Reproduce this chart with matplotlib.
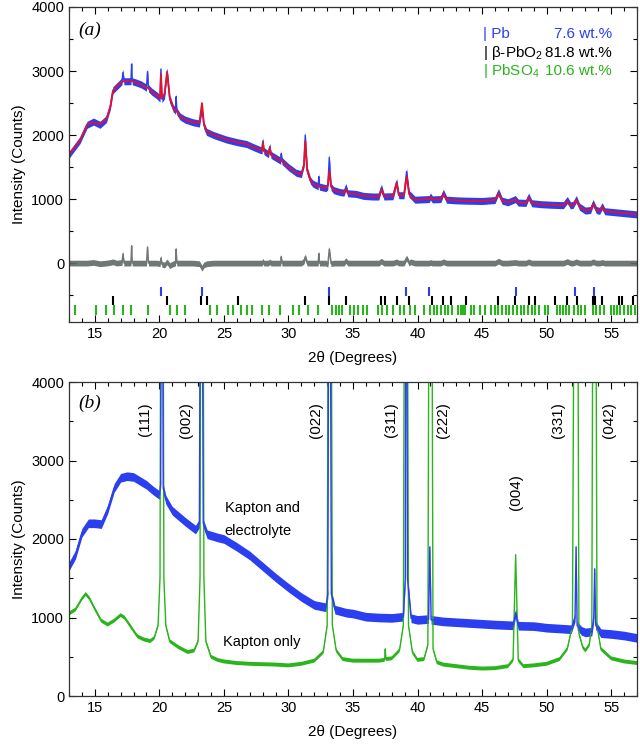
import numpy as np
import matplotlib
matplotlib.use("Agg")
import matplotlib.pyplot as plt
from matplotlib.ticker import MultipleLocator

plt.rcParams['font.family'] = ['Liberation Sans', 'DejaVu Sans']
plt.rcParams['mathtext.fontset'] = 'custom'
plt.rcParams['mathtext.rm'] = 'Liberation Sans'

##### colours ########
BLUE = "#2b3ff0"
RED = "#e8102a"
GREY = "#6f7876"
GREEN = "#2bb51c"

##### panel (a): Rietveld fit ########
theta_a = [13.00, 13.40, 13.85, 14.40, 14.90, 15.40, 15.90, 16.20, 16.40, 16.70,
           17.10, 17.18, 17.26, 17.70, 17.80, 17.85, 17.90, 18.20, 18.60, 19.00,
           19.08, 19.16, 19.40, 19.80, 20.05, 20.12, 20.20, 20.40, 20.60, 20.80,
           21.07, 21.25, 21.30, 21.35, 21.60, 22.00, 22.60, 23.10, 23.30, 23.45,
           23.65, 24.20, 25.20, 26.00, 26.75, 27.30, 27.78, 27.95, 28.02, 28.10,
           28.45, 28.55, 28.65, 29.30, 29.40, 29.44, 29.50, 30.00, 30.60, 31.00,
           31.20, 31.30, 31.45, 31.70, 31.90, 32.30, 32.35, 32.40, 32.90, 33.05,
           33.16, 33.30, 33.50, 33.97, 34.30, 34.45, 34.60, 35.25, 35.80, 36.50,
           37.00, 37.20, 37.40, 38.10, 38.38, 38.55, 38.95, 39.15, 39.35, 39.46,
           39.80, 40.90, 41.00, 41.15, 41.80, 42.00, 42.25, 43.00, 43.80, 45.00,
           46.00, 46.27, 46.55, 47.00, 47.58, 47.80, 48.40, 48.60, 48.85, 49.55,
           50.50, 51.30, 51.60, 51.85, 52.05, 52.30, 52.55, 53.00, 53.40, 53.60,
           53.85, 54.10, 54.30, 54.50, 55.00, 56.00, 57.00]
obs_a = [1690, 1800, 1920, 2160, 2210, 2160, 2250, 2450, 2700, 2760,
         2840, 2980, 2840, 2840, 2845, 3110, 2840, 2820, 2790, 2740,
         2990, 2730, 2680, 2620, 2570, 3030, 2560, 2620, 3000, 2560,
         2420, 2380, 2600, 2370, 2290, 2240, 2200, 2180, 2420, 2150,
         2050, 2000, 1930, 1890, 1860, 1810, 1770, 1760, 1910, 1750,
         1700, 1820, 1690, 1610, 1600, 1710, 1595, 1500, 1410, 1390,
         1550, 2000, 1450, 1290, 1240, 1200, 1350, 1195, 1170, 1200,
         1650, 1190, 1140, 1110, 1100, 1190, 1090, 1080, 1050, 1040,
         1040, 1180, 1040, 1045, 1270, 1060, 1060, 1430, 1080, 1060,
         990, 1000, 1040, 995, 1000, 1100, 990, 980, 975, 970,
         985, 1110, 975, 950, 1000, 945, 940, 1040, 935, 920,
         910, 905, 985, 900, 910, 1000, 880, 820, 830, 940,
         830, 815, 890, 810, 800, 780, 760]
calc_a = [1690, 1800, 1920, 2160, 2200, 2170, 2250, 2440, 2680, 2760,
          2830, 2835, 2840, 2840, 2840, 2840, 2840, 2820, 2790, 2740,
          2740, 2730, 2680, 2620, 2580, 2950, 2580, 2650, 2980, 2600,
          2430, 2380, 2380, 2370, 2290, 2240, 2200, 2190, 2500, 2180,
          2060, 2000, 1930, 1890, 1860, 1810, 1770, 1760, 1880, 1750,
          1700, 1800, 1690, 1610, 1600, 1610, 1595, 1500, 1410, 1390,
          1520, 1900, 1450, 1290, 1240, 1200, 1200, 1195, 1170, 1220,
          1430, 1200, 1140, 1110, 1100, 1150, 1090, 1080, 1050, 1040,
          1040, 1150, 1040, 1045, 1250, 1060, 1060, 1350, 1080, 1040,
          990, 1000, 1030, 995, 1000, 1080, 990, 980, 975, 970,
          985, 1080, 975, 950, 990, 945, 940, 1020, 935, 920,
          910, 905, 960, 900, 910, 980, 880, 820, 830, 920,
          830, 815, 880, 810, 800, 780, 760]

# reflection positions (2theta)
pb_refl = [20.1, 23.28, 33.16, 39.1, 40.9, 47.6, 52.2, 53.65]
pbo2_refl = [16.37, 20.61, 23.19, 23.71, 26.06, 31.3, 33.14, 34.45, 37.18, 37.46,
             38.38, 39.33, 41.1, 41.96, 42.62, 43.74, 46.2, 47.55, 48.6, 49.12,
             50.65, 51.6, 52.37, 53.56, 53.77, 54.28, 55.63, 55.86, 56.71]
pbso4_refl = [13.45, 15.08, 15.83, 16.52, 17.17, 17.80, 19.09, 20.81, 21.39, 21.96,
              23.91, 24.48, 25.28, 25.71, 26.34, 26.77, 27.20, 27.92, 28.49, 29.35,
              30.36, 30.79, 31.50, 32.28, 33.36, 33.65, 33.94, 34.14, 34.80, 35.08,
              35.37, 35.80, 36.09, 36.95, 37.23, 37.61, 38.09, 38.66, 38.95, 39.38,
              39.81, 40.53, 40.96, 41.24, 41.53, 41.82, 42.10, 42.39, 42.68, 43.11,
              43.39, 43.54, 43.68, 44.11, 44.40, 44.83, 45.26, 45.68, 45.97, 46.26,
              46.54, 46.83, 47.12, 47.40, 47.69, 47.98, 48.26, 48.55, 48.84, 49.12,
              49.41, 49.84, 50.13, 50.84, 51.04, 51.27, 51.50, 51.70, 52.13, 52.42,
              52.70, 52.99, 53.56, 53.85, 54.14, 54.42, 55.00, 55.23, 55.43, 55.71,
              56.00, 56.29, 56.57, 56.86]

phases = ["Pb", r"β-PbO$_2$", r"PbSO$_4$"]
wt_pct = ["7.6 wt.%", "81.8 wt.%", "10.6 wt.%"]

##### panel (b): Kapton with / without electrolyte ########
theta_ke = [13.0, 13.5, 14.0, 14.5, 15.0, 15.5, 16.0, 16.5, 17.0, 17.5,
            18.0, 18.5, 19.0, 19.5, 20.0, 20.1, 20.2, 20.3, 20.5, 21.0,
            22.0, 22.8, 23.1, 23.25, 23.4, 23.7, 24.5, 25.0, 26.0, 27.0,
            28.0, 29.0, 30.0, 31.0, 32.0, 32.9, 33.05, 33.18, 33.32, 33.6,
            34.5, 35.0, 36.0, 37.0, 38.0, 38.9, 39.05, 39.12, 39.22, 39.5,
            40.0, 40.85, 40.95, 41.05, 42.0, 43.0, 44.0, 45.0, 46.0, 47.4,
            47.6, 47.8, 49.0, 50.0, 51.0, 51.9, 52.2, 52.28, 52.36, 52.7,
            53.0, 53.5, 53.65, 53.72, 53.8, 54.2, 55.0, 56.0, 57.0]
kapton_elec = [1650, 1800, 2080, 2200, 2200, 2190, 2380, 2650, 2780, 2800,
               2790, 2740, 2690, 2620, 2560, 2700, 9000, 2650, 2500, 2360,
               2220, 2120, 2200, 9000, 2200, 2060, 2020, 2000, 1900, 1790,
               1650, 1510, 1380, 1260, 1160, 1130, 1300, 9000, 1300, 1100,
               1060, 1050, 1010, 1000, 995, 1010, 1500, 9000, 1500, 990,
               970, 980, 1900, 970, 950, 940, 930, 920, 910, 900,
               1060, 895, 890, 870, 860, 850, 1000, 1900, 900, 830,
               810, 820, 1000, 1620, 900, 800, 790, 770, 740]

theta_k = [13.0, 13.5, 14.0, 14.3, 14.6, 15.0, 15.5, 16.0, 16.5, 17.0,
           17.3, 17.8, 18.3, 18.8, 19.3, 19.6, 19.9, 20.05, 20.2, 20.35,
           20.5, 20.8, 21.5, 22.2, 22.7, 23.0, 23.15, 23.3, 23.45, 23.6,
           24.0, 24.5, 25.0, 26.0, 27.0, 28.0, 29.0, 30.0, 31.0, 32.0,
           32.7, 33.0, 33.2, 33.4, 33.7, 34.2, 35.0, 36.0, 37.0, 37.45,
           37.5, 37.55, 38.0, 38.6, 38.9, 39.1, 39.3, 39.6, 40.0, 40.5,
           40.8, 41.0, 41.2, 41.5, 42.0, 43.0, 44.0, 45.0, 46.0, 47.0,
           47.4, 47.6, 47.8, 48.2, 49.0, 50.0, 51.0, 51.6, 52.0, 52.3,
           52.5, 52.8, 53.0, 53.3, 53.5, 53.7, 53.9, 54.2, 55.0, 56.0, 57.0]
kapton_only = [1050, 1100, 1240, 1300, 1240, 1110, 960, 910, 960, 1030,
               1000, 880, 760, 720, 700, 740, 900, 1500, 12000, 1500,
               900, 700, 620, 560, 580, 700, 1500, 12000, 1500, 700,
               500, 460, 440, 420, 410, 405, 400, 390, 410, 450,
               560, 900, 12000, 900, 580, 470, 450, 450, 450, 460,
               600, 470, 480, 580, 900, 12000, 900, 560, 460, 470,
               650, 12000, 600, 430, 400, 380, 360, 350, 355, 380,
               460, 1800, 460, 380, 390, 410, 470, 600, 900, 12000,
               800, 620, 580, 650, 900, 12000, 900, 600, 480, 440, 420]

hkl_labels = ["(111)", "(002)", "(022)", "(311)", "(222)", "(004)", "(331)", "(042)"]
hkl_pos = [18.9, 22.05, 32.1, 37.95, 41.95, 47.6, 50.85, 54.85]
hkl_y = [3520, 3520, 3520, 3520, 3520, 2600, 3520, 3520]


def style_axes(ax, ymin, ymax):
    ax.set_xlim(13, 57)
    ax.set_ylim(ymin, ymax)
    ax.xaxis.set_major_locator(MultipleLocator(5))
    ax.xaxis.set_minor_locator(MultipleLocator(1))
    ax.yaxis.set_major_locator(MultipleLocator(1000))
    ax.yaxis.set_minor_locator(MultipleLocator(500))
    ax.tick_params(which="both", direction="in", top=True, right=True, labelsize=10.5, width=0.8)
    ax.tick_params(which="major", length=5)
    ax.tick_params(which="minor", length=3)
    ax.set_yticks([0, 1000, 2000, 3000, 4000])
    for s in ax.spines.values():
        s.set_linewidth(0.9)
        s.set_color("#333333")
    ax.set_xlabel("2θ (Degrees)", fontsize=11, labelpad=7)
    ax.set_ylabel("Intensity (Counts)", fontsize=11, labelpad=4)


fig = plt.figure(figsize=(6.4, 7.45), dpi=100)
ax1 = fig.add_axes([69/640, 1-322/745, 568/640, 315/745])
ax2 = fig.add_axes([69/640, 1-696/745, 568/640, 314/745])

####### (a) #######
ta = np.array(theta_a)
oa = np.array(obs_a)
ca = np.array(calc_a)
diff = oa - ca
ax1.fill_between(ta, oa - 55, oa + 55, color=BLUE, lw=0)
ax1.plot(ta, oa, color=BLUE, lw=1.0)
ax1.plot(ta, ca, color=RED, lw=1.3)
ax1.fill_between(ta, diff - 45, diff + 45, color=GREY, lw=0)
ax1.plot(ta, diff, color=GREY, lw=1.0)

ax1.vlines(pb_refl, -520, -380, color=BLUE, lw=1.5)
ax1.vlines(pbo2_refl, -660, -520, color="black", lw=1.5)
ax1.vlines(pbso4_refl, -810, -660, color=GREEN, lw=1.5)

row_cols = [BLUE, "black", GREEN]
for i in range(3):
    ax1.text(0.728, 0.913 - i*0.058, "| " + phases[i], color=row_cols[i], fontsize=11,
             transform=ax1.transAxes, va="center", ha="left")
    ax1.text(0.956, 0.913 - i*0.058, wt_pct[i], color=row_cols[i], fontsize=11,
             transform=ax1.transAxes, va="center", ha="right")
ax1.text(13.75, 3640, "(a)", fontsize=14, style="italic", family="Liberation Serif", va="center")
style_axes(ax1, -920, 4000)

####### (b) #######
tk = np.array(theta_k)
yk = np.array(kapton_only)
te = np.array(theta_ke)
ye = np.array(kapton_elec)
ax2.fill_between(tk, yk - 25, yk + 25, color=GREEN, lw=0)
ax2.plot(tk, yk, color=GREEN, lw=1.0)
ax2.fill_between(te, ye - 55, ye + 55, color=BLUE, lw=0)
ax2.plot(te, ye, color=BLUE, lw=1.0)

for lab, x, y in zip(hkl_labels, hkl_pos, hkl_y):
    ax2.text(x, y, lab, rotation=90, fontsize=11, ha="center", va="center")
ax2.text(25.05, 2400, "Kapton and", fontsize=10.5, ha="left", va="center")
ax2.text(25.05, 2100, "electrolyte", fontsize=10.5, ha="left", va="center")
ax2.text(27.9, 690, "Kapton only", fontsize=10.5, ha="center", va="center")
ax2.text(13.7, 3730, "(b)", fontsize=14, style="italic", family="Liberation Serif", va="center")
style_axes(ax2, 0, 4000)

fig.savefig("out.png", dpi=100)
